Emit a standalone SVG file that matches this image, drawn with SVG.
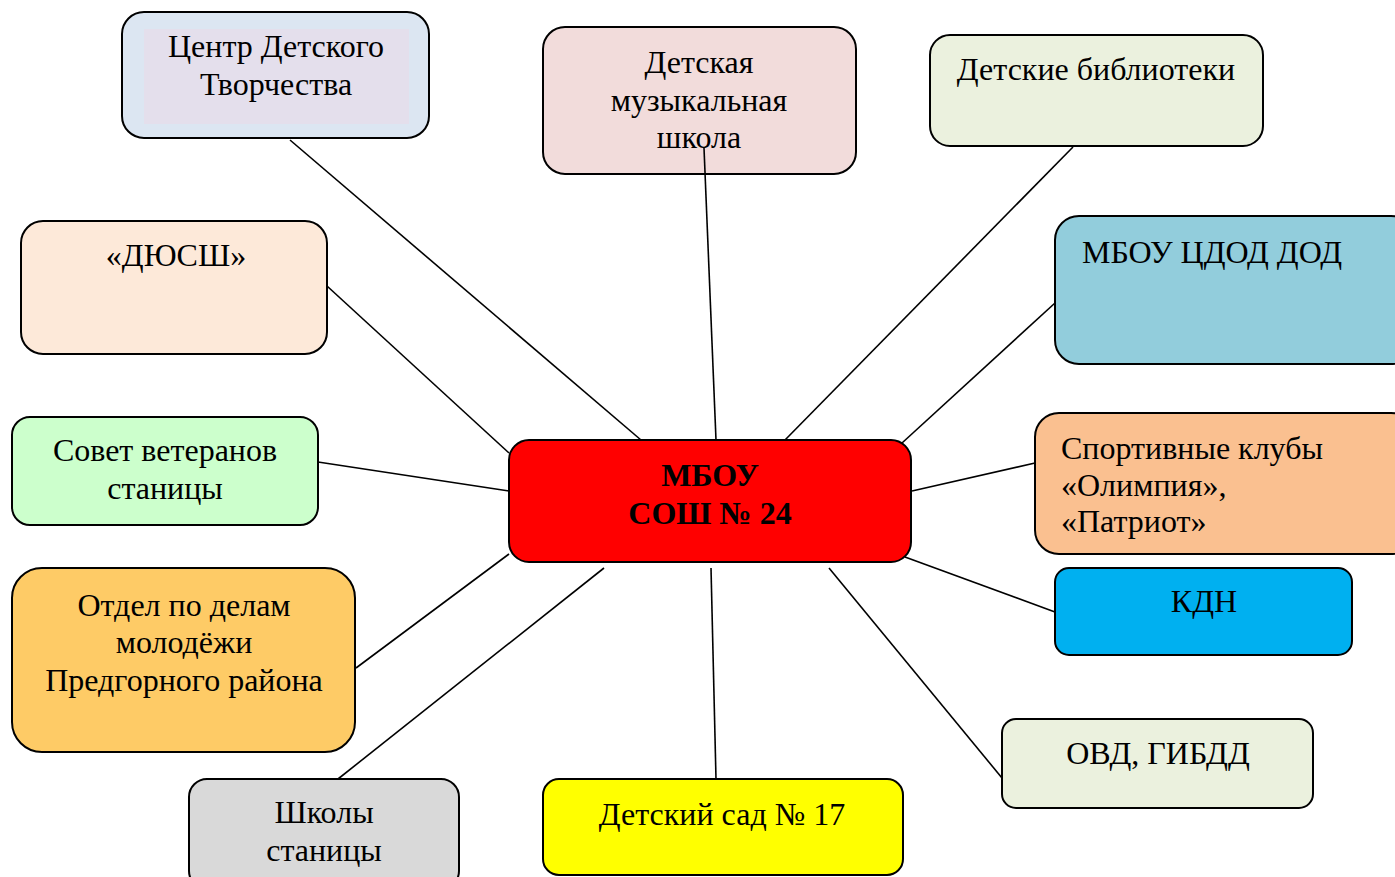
<svg xmlns="http://www.w3.org/2000/svg" width="1395" height="877" viewBox="0 0 1395 877">
<style>
.box{stroke:#000;stroke-width:2}
.t{font-family:"Liberation Serif","Times New Roman",serif;font-size:32px;fill:#000}
.c{text-anchor:middle}
.b{font-weight:bold;font-size:32px}
#edges line{stroke:#000;stroke-width:1.6}
</style>
<rect width="1395" height="877" fill="#fff"/>
<g id="center">
<rect class="box" x="509" y="440" width="402" height="122" rx="20" fill="#ff0000"/>
<text class="t c b" x="710" y="486">МБОУ</text>
<text class="t c b" x="710" y="524">СОШ № 24</text>
</g>
<g id="cdt">
<rect class="box" x="122" y="12" width="307" height="126" rx="22" fill="#dce6f2"/>
<rect x="144" y="29" width="265" height="95" fill="#e4dfec"/>
<text class="t c" x="276" y="57">Центр Детского</text>
<text class="t c" x="276" y="95">Творчества</text>
</g>
<g id="music">
<rect class="box" x="543" y="27" width="313" height="147" rx="22" fill="#f2dcdb"/>
<text class="t c" x="699" y="73">Детская</text>
<text class="t c" x="699" y="111">музыкальная</text>
<text class="t c" x="699" y="148">школа</text>
</g>
<g id="lib">
<rect class="box" x="930" y="35" width="333" height="111" rx="20" fill="#ebf1de"/>
<text class="t c" x="1096" y="80">Детские библиотеки</text>
</g>
<g id="cdod">
<rect class="box" x="1055" y="216" width="360" height="148" rx="24" fill="#92cddc"/>
<text class="t" x="1082" y="263">МБОУ ЦДОД ДОД</text>
</g>
<g id="sport">
<rect class="box" x="1035" y="413" width="380" height="141" rx="24" fill="#fac090"/>
<text class="t" x="1061" y="459">Спортивные клубы</text>
<text class="t" x="1061" y="496">«Олимпия»,</text>
<text class="t" x="1061" y="532">«Патриот»</text>
</g>
<g id="kdn">
<rect class="box" x="1055" y="568" width="297" height="87" rx="14" fill="#00b0f0"/>
<text class="t c" x="1204" y="612">КДН</text>
</g>
<g id="ovd">
<rect class="box" x="1002" y="719" width="311" height="89" rx="14" fill="#ebf1de"/>
<text class="t c" x="1158" y="764">ОВД, ГИБДД</text>
</g>
<g id="kg">
<rect class="box" x="543" y="779" width="360" height="96" rx="16" fill="#ffff00"/>
<text class="t c" x="722" y="825">Детский сад № 17</text>
</g>
<g id="schools">
<rect class="box" x="189" y="779" width="270" height="110" rx="18" fill="#d9d9d9"/>
<text class="t c" x="324" y="823">Школы</text>
<text class="t c" x="324" y="861">станицы</text>
</g>
<g id="youth">
<rect class="box" x="12" y="568" width="343" height="184" rx="30" fill="#fecb66"/>
<text class="t c" x="184" y="616">Отдел по делам</text>
<text class="t c" x="184" y="653">молодёжи</text>
<text class="t c" x="184" y="691">Предгорного района</text>
</g>
<g id="veterans">
<rect class="box" x="12" y="417" width="306" height="108" rx="18" fill="#ccffcc"/>
<text class="t c" x="165" y="461">Совет ветеранов</text>
<text class="t c" x="165" y="499">станицы</text>
</g>
<g id="dyussh">
<rect class="box" x="21" y="221" width="306" height="133" rx="22" fill="#fde9d9"/>
<text class="t c" x="176" y="266">«ДЮСШ»</text>
</g>
<g id="edges">
<line x1="290" y1="140" x2="641" y2="440"/>
<line x1="704" y1="148" x2="716" y2="440"/>
<line x1="1073" y1="147" x2="785" y2="440"/>
<line x1="1055" y1="303" x2="902" y2="443"/>
<line x1="1035" y1="463" x2="912" y2="491"/>
<line x1="905" y1="557" x2="1055" y2="612"/>
<line x1="829" y1="568" x2="1002" y2="778"/>
<line x1="711" y1="568" x2="716" y2="779"/>
<line x1="604" y1="568" x2="338" y2="779"/>
<line x1="509" y1="554" x2="356" y2="668"/>
<line x1="318" y1="462" x2="509" y2="491"/>
<line x1="327" y1="286" x2="509" y2="453"/>
</g>
</svg>
